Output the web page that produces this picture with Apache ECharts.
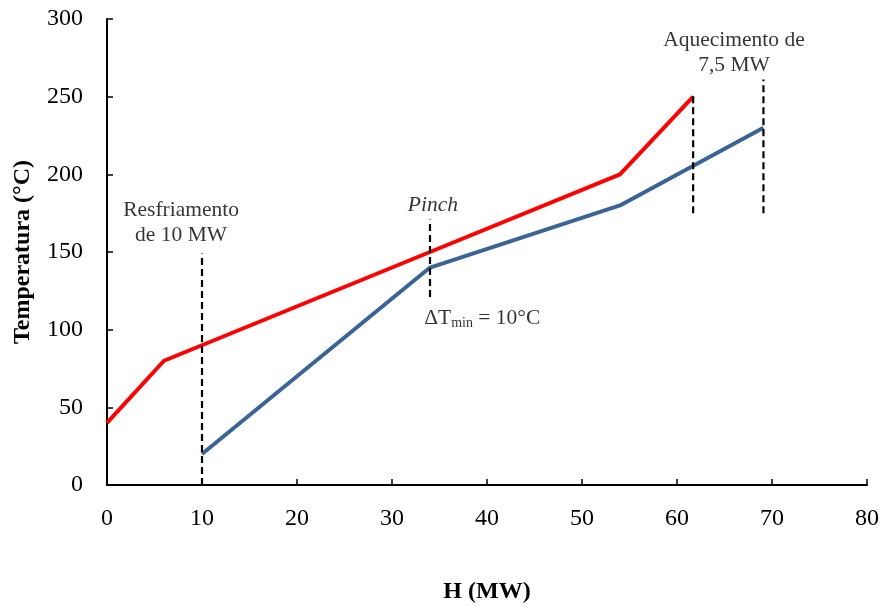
<!DOCTYPE html>
<html><head><meta charset="utf-8">
<script src="https://cdn.jsdelivr.net/npm/echarts@6/dist/echarts.min.js"></script>
<style>html,body{margin:0;padding:0;background:#fff}#c{width:885px;height:607px}</style>
</head><body><div id="c"></div>
<script>
// Hot composite curve (H MW, T °C)
const hotH = [0, 6, 34, 54, 61.7];
const hotT = [40, 80, 150, 200, 250];
// Cold composite curve
const coldH = [10, 34, 54, 69.1];
const coldT = [20, 140, 180, 230];
// Dashed guide lines [x, yStart, yEnd]
const guides = [[10, 0, 149], [34, 121, 171], [61.7, 175, 251], [69.1, 175, 261]];
// Annotations [x, y, text]
const notes = [
  [7.8, 169, 'Resfriamento\nde 10 MW', 'n'],
  [34.3, 180, 'Pinch', 'i'],
  [39.5, 107, '{a|ΔT}{s|min}{a| = 10°C}', 'r'],
  [66, 278, 'Aquecimento de\n7,5 MW', 'n']
];
const xTicks = [0, 10, 20, 30, 40, 50, 60, 70, 80];
const yTicks = [0, 50, 100, 150, 200, 250, 300];

const ff = '"Liberation Serif", "Times New Roman", serif';
const chart = echarts.init(document.getElementById('c'));
const series = [];
series.push({type:'line', data: hotH.map((h,i)=>[h, hotT[i]]), symbol:'none', lineStyle:{color:'#FF0000', width:4}, z:3});
series.push({type:'line', data: coldH.map((h,i)=>[h, coldT[i]]), symbol:'none', lineStyle:{color:'#3B6395', width:4}, z:3});
guides.forEach(g => series.push({type:'line', data:[[g[0], g[1]], [g[0], g[2]]], symbol:'none', lineStyle:{color:'#000', width:2.2, type:[7,4]}, z:4}));
series.push({type:'scatter', symbolSize:0, z:5, itemStyle:{color:'#000'}, silent:true,
  label:{show:true, position:'inside', color:'#000', textBorderWidth:0, fontFamily:ff, fontSize:21.5},
  data: notes.map(n => ({value:[n[0], n[1]], label:{
    show:true, position:'inside', formatter:n[2], color:'#000', textBorderWidth:0,
    fontFamily:ff, fontSize:21.5, fontStyle: n[3]==='i' ? 'italic':'normal', lineHeight:25, align:'center',
    rich: {a:{fontFamily:ff, fontSize:21.5, color:'#000'}, s:{fontFamily:ff, fontSize:14, color:'#000', padding:[10,0,0,0]}}
  }}))
});
chart.setOption({
  animation:false,
  textStyle:{color:'#000'},
  grid:{left:107, right:18, top:19, bottom:122, containLabel:false, outerBoundsMode:'none'},
  xAxis:{type:'value', min:0, max:80, interval:10,
    name:'H (MW)', nameLocation:'middle', nameGap:95,
    nameTextStyle:{fontFamily:ff, fontSize:24, fontWeight:'bold', color:'#000'},
    axisLine:{show:true, lineStyle:{color:'#000', width:2}},
    axisTick:{show:true, inside:true, length:6, lineStyle:{color:'#000', width:1.5}},
    axisLabel:{fontFamily:ff, fontSize:24, color:'#000', margin:22, formatter:v=>String(v)},
    splitLine:{show:false}},
  yAxis:{type:'value', min:0, max:300, interval:50,
    name:'Temperatura (°C)', nameLocation:'middle', nameGap:72,
    nameTextStyle:{fontFamily:ff, fontSize:24, fontWeight:'bold', color:'#000'},
    axisLine:{show:true, lineStyle:{color:'#000', width:2}},
    axisTick:{show:true, inside:true, length:6, lineStyle:{color:'#000', width:1.5}},
    axisLabel:{fontFamily:ff, fontSize:24, color:'#000', margin:24, formatter:v=>String(v)},
    splitLine:{show:false}},
  series: series
});
</script></body></html>
